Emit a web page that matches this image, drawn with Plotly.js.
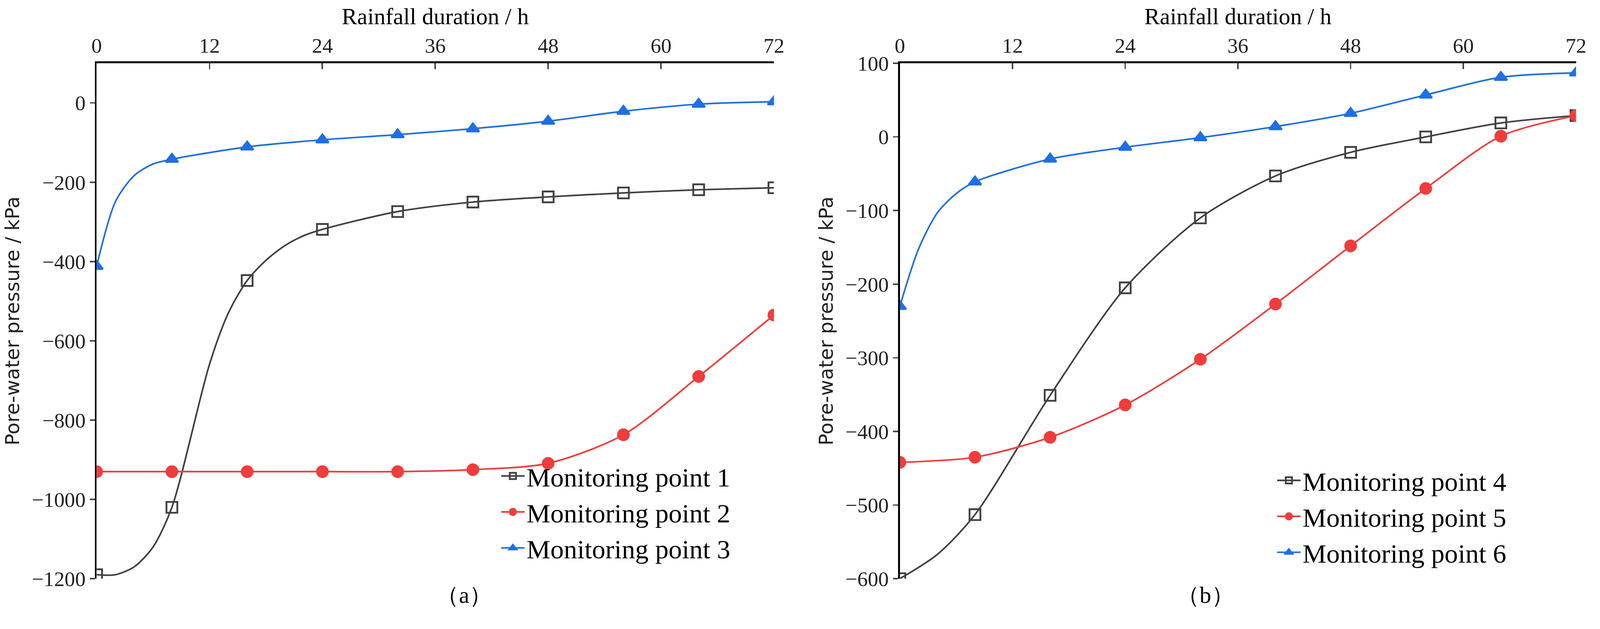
<!DOCTYPE html>
<html>
<head>
<meta charset="utf-8">
<script src="https://cdn.plot.ly/plotly-3.0.1.min.js"></script>
<style>html,body{margin:0;padding:0;background:#fff;overflow:hidden}#graph{width:100vw;height:100vh}</style>
</head>
<body>
<div id="graph"></div>
<script>
// marker positions (every 8 h)
var hours = [0, 8, 16, 24, 32, 40, 48, 56, 64, 72]

// panel (a)
var p1 = [-1190, -1020, -448, -319, -274, -250, -237, -227, -219, -214]
var p2 = [-930, -930, -930, -930, -930, -925, -909, -837, -690, -535]
var p3 = [-412, -142, -111, -93, -80, -65, -46, -21, -3, 3]
// panel (b)
var p4 = [-600, -513, -351, -205, -110, -53, -21, 0, 19, 29]
var p5 = [-442, -435, -408, -364, -302, -227, -148, -70, 1, 29]
var p6 = [-230, -61, -30, -14, -1, 14, 32, 57, 81, 87]

// extra points on the curves between markers
var p1LineX = [0, 2, 4, 6, 8, 12, 14, 16, 18, 20, 22, 24, 32, 40, 48, 56, 64, 72]
var p1LineY = [-1190, -1190, -1170, -1120, -1020, -659, -530, -448, -397, -360, -335, -319, -274, -250, -237, -227, -219, -214]
var p3LineX = [0, 2, 4, 6, 8, 16, 24, 32, 40, 48, 56, 64, 72]
var p3LineY = [-412, -249, -183, -154, -142, -111, -93, -80, -65, -46, -21, -3, 3]
var p4LineX = [0, 4, 8, 16, 24, 32, 40, 48, 56, 64, 72]
var p4LineY = [-600, -567, -513, -351, -205, -110, -53, -21, 0, 19, 29]
var p6LineX = [0, 2, 4, 6, 8, 16, 24, 32, 40, 48, 56, 64, 72]
var p6LineY = [-230, -152, -103, -77, -61, -30, -14, -1, 14, 32, 57, 81, 87]

var grey = '#404040', red = '#f03c3c', blue = '#1f6fe0'

// sizes below are for a 4422 px wide picture, scaled to the real viewport
var W = window.innerWidth, H = window.innerHeight
var s = W / 4422
function px(v) { return v * s }
var msize = px(30)

function series(name, lx, ly, my, color, symbol, xa, ya, leg) {
    return [
        {x: lx, y: ly, xaxis: xa, yaxis: ya, mode: 'lines', showlegend: false,
         line: {color: color, width: px(4.5), shape: 'spline', smoothing: 0.8}, hoverinfo: 'skip'},
        {x: hours, y: my, xaxis: xa, yaxis: ya, mode: 'markers', showlegend: false,
         marker: {color: color, size: msize, symbol: symbol, line: {color: color, width: px(5)}}},
        {x: [null], y: [null], xaxis: xa, yaxis: ya, mode: 'lines+markers', name: name, legend: leg,
         line: {color: color, width: px(4.5)}, marker: {color: color, size: msize, symbol: symbol, line: {color: color, width: px(5)}}}
    ]
}

var data = [].concat(
    series('Monitoring point 1', p1LineX, p1LineY, p1, grey, 'square-open', 'x', 'y', 'legend'),
    series('Monitoring point 2', hours, p2, p2, red, 'circle', 'x', 'y', 'legend'),
    series('Monitoring point 3', p3LineX, p3LineY, p3, blue, 'triangle-up', 'x', 'y', 'legend'),
    series('Monitoring point 4', p4LineX, p4LineY, p4, grey, 'square-open', 'x2', 'y2', 'legend2'),
    series('Monitoring point 5', hours, p5, p5, red, 'circle', 'x2', 'y2', 'legend2'),
    series('Monitoring point 6', p6LineX, p6LineY, p6, blue, 'triangle-up', 'x2', 'y2', 'legend2')
)

var serif = 'Liberation Serif, Times New Roman, serif'
function xax(dom, anchor) {
    return {domain: dom, anchor: anchor, side: 'top', range: [0, 72], tickvals: [0, 12, 24, 36, 48, 60, 72],
        ticks: 'inside', ticklen: px(16), tickwidth: px(4), showline: true, linewidth: px(6), linecolor: '#000',
        showgrid: false, zeroline: false, tickfont: {family: serif, size: px(58), color: '#222'},
        title: {text: 'Rainfall duration / h', font: {family: serif, size: px(64), color: '#000'}, standoff: px(8)}}
}
function yax(range, vals, anchor) {
    return {domain: [0.08, 0.8994], anchor: anchor, range: range, tickvals: vals,
        ticktext: vals.map(function (v) { return v < 0 ? '\u2212' + (-v) : String(v) }),
        ticks: 'outside', ticklen: px(14), tickwidth: px(4), showline: true, linewidth: px(5), linecolor: '#000',
        showgrid: false, zeroline: false, tickfont: {family: serif, size: px(58), color: '#222'},
        title: {text: 'Pore-water pressure / kPa', font: {family: 'DejaVu Sans, sans-serif', size: px(54), color: '#222'}, standoff: px(18)}}
}

var legFont = {family: serif, size: px(74), color: '#000'}
var layout = {
    width: W, height: H, paper_bgcolor: '#fff', plot_bgcolor: '#fff',
    margin: {l: 0, r: 0, t: 0, b: 0},
    xaxis: xax([0.0604, 0.4837], 'y'),
    yaxis: yax([-1200, 100], [-1200, -1000, -800, -600, -400, -200, 0], 'x'),
    xaxis2: xax([0.5624, 0.985], 'y2'),
    yaxis2: yax([-600, 100], [-600, -500, -400, -300, -200, -100, 0, 100], 'x2'),
    legend: {x: 0.312, y: 0.275, xanchor: 'left', yanchor: 'top', font: legFont, bgcolor: 'rgba(0,0,0,0)', tracegroupgap: 0, itemwidth: 60},
    legend2: {x: 0.797, y: 0.268, xanchor: 'left', yanchor: 'top', font: legFont, bgcolor: 'rgba(0,0,0,0)', tracegroupgap: 0, itemwidth: 60},
    annotations: [
        {text: '\uff08a\uff09', x: 0.272, y: 0.032, xref: 'paper', yref: 'paper', showarrow: false, font: {family: serif, size: px(64), color: '#000'}},
        {text: '\uff08b\uff09', x: 0.772, y: 0.032, xref: 'paper', yref: 'paper', showarrow: false, font: {family: serif, size: px(64), color: '#000'}}
    ]
}

Plotly.newPlot('graph', data, layout, {staticPlot: true})
</script>
</body>
</html>
